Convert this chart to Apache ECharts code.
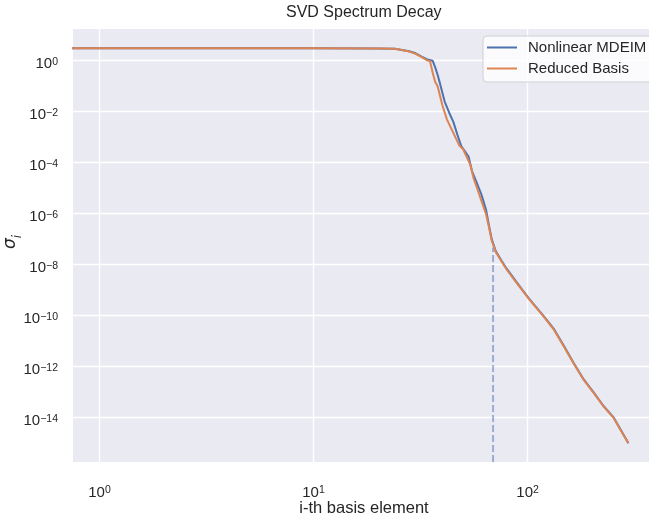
<!DOCTYPE html>
<html>
<head>
<meta charset="utf-8">
<script src="https://cdn.jsdelivr.net/npm/echarts@6/dist/echarts.min.js"></script>
<style>
  html, body { margin: 0; padding: 0; background: #ffffff; }
  #chart { width: 649px; height: 518px; }
</style>
</head>
<body>
<div id="chart"></div>
<script>
// Singular values of the snapshot matrices, indexed by basis element (0-based).
const basisIndexMdeim = [0, 1, 10, 20, 24, 28, 30, 32, 34, 36, 37, 38, 39, 41, 43, 45, 47, 49, 51, 53, 55, 58, 61, 64, 66, 68, 71, 75, 80, 88, 94, 101, 107, 119, 133, 148, 164, 183, 204, 227, 253, 272, 296];
const sigmaMdeim = [3.09, 3.09, 3.08, 3.03, 2.92, 2.33, 1.95, 1.45, 1.12, 1.0, 0.56, 0.28, 0.126, 0.025, 9.3e-3, 4.0e-3, 1.26e-3, 4.5e-4, 2.8e-4, 1.74e-4, 4.7e-5, 1.58e-5, 5.4e-6, 1.41e-6, 3.5e-7, 1.0e-7, 3.4e-8, 1.58e-8, 6.8e-9, 2.3e-9, 1.1e-9, 5.0e-10, 2.75e-10, 9.5e-11, 2.95e-11, 6.5e-12, 1.41e-12, 3.16e-13, 9.5e-14, 2.8e-14, 1.0e-14, 3.4e-15, 1.0e-15];

const basisIndexRb = [0, 1, 10, 20, 24, 28, 30, 32, 34, 35, 36, 37, 38, 40, 42, 45, 48, 50, 51, 54, 56, 58, 61, 64, 66, 68, 71, 75, 80, 88, 94, 101, 107, 119, 133, 148, 164, 183, 204, 227, 253, 272, 296];
const sigmaRb = [3.09, 3.09, 3.08, 3.03, 2.92, 2.29, 1.86, 1.38, 1.02, 0.977, 0.355, 0.148, 0.1, 0.0178, 5.0e-3, 1.48e-3, 4.68e-4, 3.39e-4, 2.34e-4, 8.5e-5, 2.4e-5, 1.05e-5, 3.0e-6, 9.5e-7, 3.0e-7, 8.9e-8, 3.16e-8, 1.48e-8, 6.3e-9, 2.14e-9, 1.05e-9, 4.8e-10, 2.63e-10, 9.1e-11, 2.75e-11, 6.0e-12, 1.35e-12, 3.0e-13, 9.1e-14, 2.7e-14, 9.5e-15, 3.3e-15, 1.0e-15];

// Truncation index marked by the dashed line, and sigma where it stops.
const cutoffIndex = 69;
const cutoffSigma = 4.7e-8;

// Axis extents and labelled decades.
const xRange = [0.752, 394];
const yRange = [1.82e-16, 17.5];
const xTickExponents = [0, 1, 2];
const yTickExponents = [0, -2, -4, -6, -8, -10, -12, -14];

const TEXT = '#262626';
const SANS = "'Liberation Sans', Arial, sans-serif";

// Index 0 has no place on a log axis: clip it to a tiny positive value so the
// segment runs off the left edge of the plot.
const clipPos = n => (n > 0 ? n : 1e-3);

function powerLabel(allowed) {
  return function (v) {
    const lg = Math.log10(v);
    const e = Math.round(lg);
    if (Math.abs(lg - e) > 1e-6 || allowed.indexOf(e) < 0) return '';
    const s = e < 0 ? '\u2212' + (-e) : String(e);
    return '{b|10}{s|' + s + '}';
  };
}

const tickRich = {
  b: { fontSize: 15, fontFamily: SANS, color: TEXT, lineHeight: 15, padding: [8, 0, 0, 0], verticalAlign: 'bottom' },
  s: { fontSize: 10.5, fontFamily: SANS, color: TEXT, lineHeight: 11, verticalAlign: 'top' }
};

const chart = echarts.init(document.getElementById('chart'), null, { renderer: 'canvas' });

chart.setOption({
  animation: false,
  backgroundColor: '#ffffff',
  grid: {
    left: 73, top: 29, width: 582, height: 433,
    containLabel: false, outerBoundsMode: 'none',
    show: true, backgroundColor: '#eaeaf2', borderWidth: 0
  },
  graphic: [
    {
      type: 'text', x: 363.8, y: 13,
      style: {
        text: 'SVD Spectrum Decay', fill: TEXT,
        font: "16px 'Liberation Sans', Arial, sans-serif",
        align: 'center', verticalAlign: 'middle'
      }
    },
    {
      // y-axis title: sigma with subscript i, reading bottom to top
      type: 'text', x: 13, y: 242, rotation: Math.PI / 2,
      style: {
        text: '{a|σ}{i|i}', align: 'center', verticalAlign: 'middle',
        rich: {
          a: { fontSize: 17, fontFamily: "'DejaVu Sans'", fontStyle: 'italic', fill: TEXT, verticalAlign: 'top', lineHeight: 18 },
          i: { fontSize: 11.5, fontFamily: "'DejaVu Sans'", fontStyle: 'italic', fill: TEXT, verticalAlign: 'bottom', lineHeight: 22 }
        }
      }
    }
  ],
  legend: {
    data: ['Nonlinear MDEIM', 'Reduced Basis'],
    orient: 'vertical', left: 483, top: 36,
    icon: 'path://M0,0H30V2H0Z',
    itemWidth: 30, itemHeight: 2, itemGap: 6,
    padding: [4, 8, 6, 4],
    backgroundColor: 'rgba(255,255,255,0.8)',
    borderColor: '#d0d0d6', borderWidth: 1, borderRadius: 4,
    textStyle: { fontSize: 15, lineHeight: 15, fontFamily: SANS, color: TEXT, padding: [0, 0, 0, 6] }
  },
  xAxis: {
    type: 'log', logBase: 10, min: xRange[0], max: xRange[1],
    name: 'i-th basis element', nameLocation: 'middle', nameGap: 38, nameMoveOverlap: false,
    nameTextStyle: { fontSize: 16.5, fontFamily: SANS, color: TEXT },
    axisLine: { show: false }, axisTick: { show: false },
    axisLabel: { formatter: powerLabel(xTickExponents), rich: tickRich, margin: 23, showMinLabel: false, showMaxLabel: false },
    splitLine: { show: true, showMinLine: false, showMaxLine: false, lineStyle: { color: '#ffffff', width: 1.4 } },
    minorTick: { show: false }, minorSplitLine: { show: false }
  },
  yAxis: {
    type: 'log', logBase: 100, min: yRange[0], max: yRange[1],
    axisLine: { show: false }, axisTick: { show: false },
    axisLabel: { formatter: powerLabel(yTickExponents), rich: tickRich, margin: 15, padding: [6, 0, 0, 0], showMinLabel: false, showMaxLabel: false },
    splitLine: { show: true, showMinLine: false, showMaxLine: false, lineStyle: { color: '#ffffff', width: 1.4 } },
    minorTick: { show: false }, minorSplitLine: { show: false }
  },
  series: [
    {
      name: 'Nonlinear MDEIM', type: 'line', symbol: 'none', z: 3, clip: true,
      color: '#4c72b0', lineStyle: { color: '#4c72b0', width: 2 },
      data: basisIndexMdeim.map((n, i) => [clipPos(n), sigmaMdeim[i]])
    },
    {
      name: 'Reduced Basis', type: 'line', symbol: 'none', z: 4, clip: true,
      color: '#dd8452', lineStyle: { color: '#dd8452', width: 2 },
      data: basisIndexRb.map((n, i) => [clipPos(n), sigmaRb[i]])
    },
    {
      name: 'cutoff', type: 'line', symbol: 'none', z: 2, clip: true,
      lineStyle: { color: 'rgba(76,114,176,0.5)', width: 2, type: [7, 3] },
      data: [[cutoffIndex, yRange[0]], [cutoffIndex, cutoffSigma]]
    }
  ]
});
</script>
</body>
</html>
